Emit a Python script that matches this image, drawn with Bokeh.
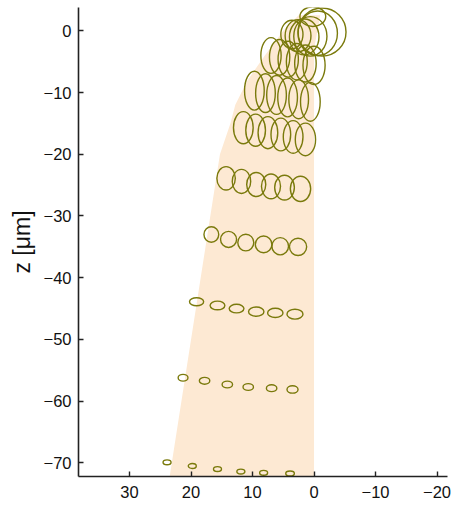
from bokeh.plotting import figure
from bokeh.models import Range1d, FixedTicker
from bokeh.embed import file_html
from bokeh.resources import INLINE

# ---- data ----
x_ticks = [30, 20, 10, 0, -10, -20]
z_ticks = [0, -10, -20, -30, -40, -50, -60, -70]

# beige cone outline (x, z)
cone_x = [0.0, 23.6, 15.3, 13.6, 12.8, 10.8, 8.0, 5.0, 2.5, -1.0, 0.0]
cone_z = [-73.0, -73.0, -20.0, -15.0, -12.0, -8.0, -4.0, 0.0, 2.5, 2.5, -3.0]

# ellipse rows: centre x, centre z, width, height
row1_x = [23.9, 19.8, 15.7, 11.9, 8.2, 3.9]
row1_z = [-69.9, -70.5, -71.0, -71.4, -71.6, -71.7]
row1_w = [1.3, 1.3, 1.3, 1.3, 1.3, 1.4]
row1_h = [0.8, 0.8, 0.8, 0.8, 0.8, 0.8]

row2_x = [21.3, 17.8, 14.1, 10.7, 6.9, 3.5]
row2_z = [-56.2, -56.7, -57.3, -57.7, -57.9, -58.1]
row2_w = [1.6, 1.7, 1.7, 1.7, 1.7, 1.8]
row2_h = [1.1, 1.1, 1.1, 1.1, 1.1, 1.2]

row3_x = [19.1, 15.7, 12.6, 9.4, 6.3, 3.1]
row3_z = [-43.9, -44.5, -45.0, -45.5, -45.7, -45.9]
row3_w = [2.3, 2.4, 2.4, 2.5, 2.5, 2.6]
row3_h = [1.3, 1.4, 1.4, 1.5, 1.5, 1.6]

row4_x = [16.7, 13.9, 11.1, 8.2, 5.5, 2.6]
row4_z = [-33.0, -33.8, -34.3, -34.6, -34.9, -35.0]
row4_w = [2.4, 2.6, 2.6, 2.7, 2.7, 2.8]
row4_h = [2.5, 2.6, 2.7, 2.7, 2.8, 2.8]

row5_x = [14.3, 11.8, 9.4, 7.0, 4.8, 2.2]
row5_z = [-23.9, -24.4, -24.9, -25.2, -25.4, -25.6]
row5_w = [3.0, 3.0, 3.1, 3.1, 3.2, 3.3]
row5_h = [3.8, 3.9, 3.9, 4.0, 4.0, 4.1]

row6_x = [11.5, 9.5, 7.5, 5.4, 3.4, 1.4]
row6_z = [-15.7, -16.1, -16.5, -16.8, -17.2, -17.6]
row6_w = [3.2, 3.2, 3.2, 3.2, 3.2, 3.3]
row6_h = [5.2, 5.2, 5.2, 5.3, 5.3, 5.3]

row7_x = [9.7, 7.9, 6.1, 4.3, 2.5, 0.6]
row7_z = [-9.7, -10.1, -10.4, -10.8, -11.1, -11.5]
row7_w = [3.2, 3.2, 3.2, 3.2, 3.2, 3.2]
row7_h = [6.3, 6.3, 6.3, 6.3, 6.3, 6.3]

row8_x = [7.0, 5.6, 4.2, 2.8, 1.4, 0.0]
row8_z = [-4.0, -4.3, -4.6, -5.0, -5.3, -5.6]
row8_w = [3.3, 3.3, 3.3, 3.4, 3.5, 3.6]
row8_h = [5.8, 5.8, 5.8, 5.9, 6.0, 6.2]

row9_x = [3.6, 2.6, 1.6, 0.6, -0.6, -1.3, 0.2]
row9_z = [-0.6, -0.8, -1.0, -0.9, -0.4, -0.2, 2.3]
row9_w = [3.6, 4.2, 4.8, 5.4, 6.4, 7.8, 4.2]
row9_h = [4.6, 5.2, 5.8, 6.4, 7.2, 7.8, 3.2]

ell_x = row1_x + row2_x + row3_x + row4_x + row5_x + row6_x + row7_x + row8_x + row9_x
ell_z = row1_z + row2_z + row3_z + row4_z + row5_z + row6_z + row7_z + row8_z + row9_z
ell_w = row1_w + row2_w + row3_w + row4_w + row5_w + row6_w + row7_w + row8_w + row9_w
ell_h = row1_h + row2_h + row3_h + row4_h + row5_h + row6_h + row7_h + row8_h + row9_h

# ---- figure ----
p = figure(width=451, height=506, output_backend="svg", toolbar_location=None,
           x_range=Range1d(38.3, -21.7), y_range=Range1d(-72.2, 3.77),
           min_border_left=78, min_border_right=4, min_border_top=7, min_border_bottom=30)
p.outline_line_color = None
p.xgrid.visible = False
p.ygrid.visible = False
p.background_fill_color = "white"
p.border_fill_color = "white"

p.patch(cone_x, cone_z, fill_color="#fde9d3", line_color=None)
p.ellipse(x=ell_x, y=ell_z, width=ell_w, height=ell_h,
          fill_color=None, line_color="#7a7a0c", line_width=1.4)

for ax in (p.xaxis[0], p.yaxis[0]):
    ax.major_tick_in = 5
    ax.major_tick_out = 0
    ax.minor_tick_line_color = None
    ax.axis_line_width = 1.6
    ax.axis_line_color = "#222222"
    ax.major_tick_line_color = "#222222"
    ax.major_tick_line_width = 1.4
    ax.major_label_text_font = "Liberation Sans"
    ax.major_label_text_font_size = "16.5px"
    ax.major_label_text_color = "#111111"

p.xaxis.ticker = FixedTicker(ticks=x_ticks)
p.yaxis.ticker = FixedTicker(ticks=z_ticks)
p.xaxis.major_label_standoff = 9
p.yaxis.major_label_standoff = 7

p.yaxis.axis_label = "z [μm]"
p.yaxis.axis_label_text_font = "Liberation Sans"
p.yaxis.axis_label_text_font_size = "23px"
p.yaxis.axis_label_text_font_style = "normal"
p.yaxis.axis_label_text_color = "#111111"
p.yaxis.axis_label_standoff = 6

open("out.html", "w").write(file_html(p, INLINE))
